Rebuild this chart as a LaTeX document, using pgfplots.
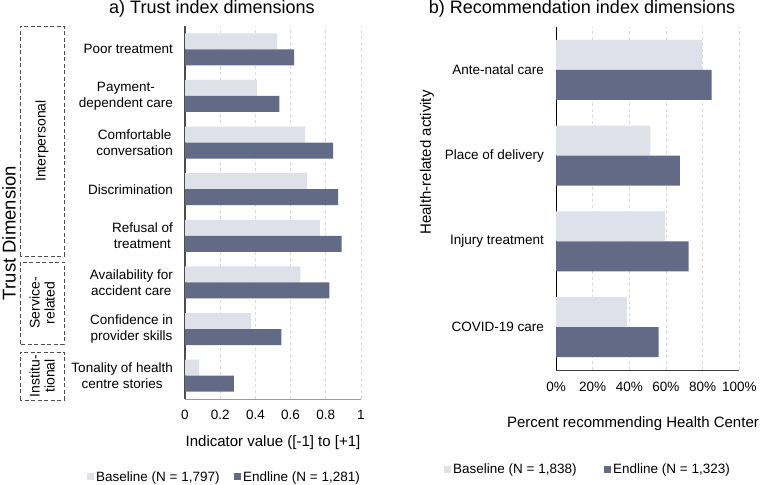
\documentclass[border=0pt]{standalone}
\usepackage{pgfplots}
\pgfplotsset{compat=1.18}
\usepackage{fontspec}
\setmainfont{Liberation Sans}
\definecolor{base}{HTML}{DFE1EA}
\definecolor{endl}{HTML}{626B86}
\definecolor{gridc}{HTML}{D9D9D9}
\begin{document}
\begin{tikzpicture}[x=1pt,y=1pt]
\useasboundingbox (0,0) rectangle (762,484);
% ---------- Panel a ----------
\begin{axis}[
  at={(185pt,85pt)}, anchor=south west,
  scale only axis, width=176pt, height=373pt,
  xbar, xmin=0, xmax=1, ymin=-0.5, ymax=7.5,
  axis x line*=bottom, axis y line*=left,
  x axis line style={-, draw=black!40, line width=0.8pt},
  y axis line style={-, draw=black!70, line width=1.3pt},
  xmajorgrids, grid style={gridc, dash pattern=on 3pt off 3pt, line width=0.7pt},
  major tick length=0pt,
  tick label style={font=\fontsize{13.5}{16}\selectfont},
  yticklabel style={align=center, inner sep=0pt, xshift=-12pt},
  xticklabel style={inner sep=0pt, anchor=north, yshift=-11pt},
  xtick={0,0.2,0.4,0.6,0.8,1}, xticklabels={0,0.2,0.4,0.6,0.8,1},
  ytick={0,1,2,3,4,5,6,7},
  yticklabels={Tonality of health\\centre stories, Confidence in\\provider skills, Availability for\\accident care, Refusal of\\treatment, Discrimination, Comfortable\\conversation, Payment-\\dependent care, Poor treatment},
  xlabel={Indicator value ([-1] to [+1]},
  xlabel style={font=\fontsize{15}{18}\selectfont, at={(axis description cs:0.5,0)}, anchor=base, yshift=-48pt},
  ylabel={Trust Dimension},
  ylabel style={font=\fontsize{18.5}{20}\selectfont, at={(axis description cs:-1.0,0.445)}, anchor=center},
  title={a) Trust index dimensions},
  every axis title/.style={font=\fontsize{18}{20}\selectfont, at={(axis description cs:0.153,1)}, anchor=base, yshift=12.7pt},
  legend columns=2,
  legend image code/.code={\fill[#1] (0pt,-3.5pt) rectangle (7pt,3.5pt);},
  legend style={at={(axis description cs:-0.557,-0.209)}, anchor=west, draw=none, fill=none, inner sep=0pt,
    font=\fontsize{13.5}{16}\selectfont, /tikz/every even column/.append style={column sep=12.5pt}},
]
\addplot[fill=base, draw=none, bar width=0.343, bar shift=0.1715] coordinates {
  (0.08,0) (0.375,1) (0.655,2) (0.767,3) (0.693,4) (0.683,5) (0.409,6) (0.523,7)};
\addlegendentry{Baseline (N = 1,797)}
\addplot[fill=endl, draw=none, bar width=0.343, bar shift=-0.1715] coordinates {
  (0.277,0) (0.547,1) (0.82,2) (0.89,3) (0.87,4) (0.841,5) (0.536,6) (0.62,7)};
\addlegendentry{Endline (N = 1,281)}
\end{axis}
% group boxes
\begin{scope}[dash pattern=on 4pt off 2.5pt, draw=black!70, line width=0.8pt]
\draw (20,228) rectangle (64,458);
\draw (20,140) rectangle (64,222);
\draw (20,84) rectangle (64,132);
\end{scope}
\node[rotate=90, font=\fontsize{14}{15}\selectfont] at (42,343) {Interpersonal};
\node[rotate=90, align=center, font=\fontsize{14}{15}\selectfont] at (42,181) {Service-\\related};
\node[rotate=90, align=center, font=\fontsize{14}{15}\selectfont] at (42,108) {Institu-\\tional};
% ---------- Panel b ----------
\begin{axis}[
  at={(556pt,114pt)}, anchor=south west,
  scale only axis, width=183.3pt, height=343pt,
  xbar, xmin=0, xmax=100, ymin=-0.5, ymax=3.5,
  axis x line*=bottom, axis y line*=left,
  x axis line style={-, draw=black!75, line width=0.8pt},
  y axis line style={-, draw=black, line width=1pt},
  xmajorgrids, grid style={gridc, dash pattern=on 3pt off 3pt, line width=0.7pt},
  major tick length=0pt,
  tick label style={font=\fontsize{13.5}{16}\selectfont},
  yticklabel style={align=center, inner sep=0pt, xshift=-12pt},
  xticklabel style={inner sep=0pt, anchor=north, yshift=-12pt},
  xtick={0,20,40,60,80,100}, xticklabels={0\%,20\%,40\%,60\%,80\%,100\%},
  ytick={0,1,2,3},
  yticklabels={COVID-19 care, Injury treatment, Place of delivery, Ante-natal care},
  xlabel={Percent recommending Health Center},
  xlabel style={font=\fontsize{15}{18}\selectfont, at={(axis description cs:0.42,0)}, anchor=base, yshift=-58pt},
  ylabel={Health-related activity},
  ylabel style={font=\fontsize{15}{18}\selectfont, at={(axis description cs:-0.704,0.605)}, anchor=center},
  title={b) Recommendation index dimensions},
  every axis title/.style={font=\fontsize{18}{20}\selectfont, at={(axis description cs:0.142,1)}, anchor=base, yshift=13.7pt},
  legend columns=2,
  legend image code/.code={\fill[#1] (0pt,-3.5pt) rectangle (7pt,3.5pt);},
  legend style={at={(axis description cs:-0.611,-0.289)}, anchor=west, draw=none, fill=none, inner sep=0pt,
    font=\fontsize{13.5}{16}\selectfont, /tikz/every even column/.append style={column sep=25.5pt}},
]
\addplot[fill=base, draw=none, bar width=0.35, bar shift=0.175] coordinates {
  (38.7,0) (59.5,1) (51.5,2) (79.7,3)};
\addlegendentry{Baseline (N = 1,838)}
\addplot[fill=endl, draw=none, bar width=0.35, bar shift=-0.175] coordinates {
  (56.0,0) (72.4,1) (67.6,2) (84.9,3)};
\addlegendentry{Endline (N = 1,323)}
\end{axis}
\end{tikzpicture}
\end{document}
